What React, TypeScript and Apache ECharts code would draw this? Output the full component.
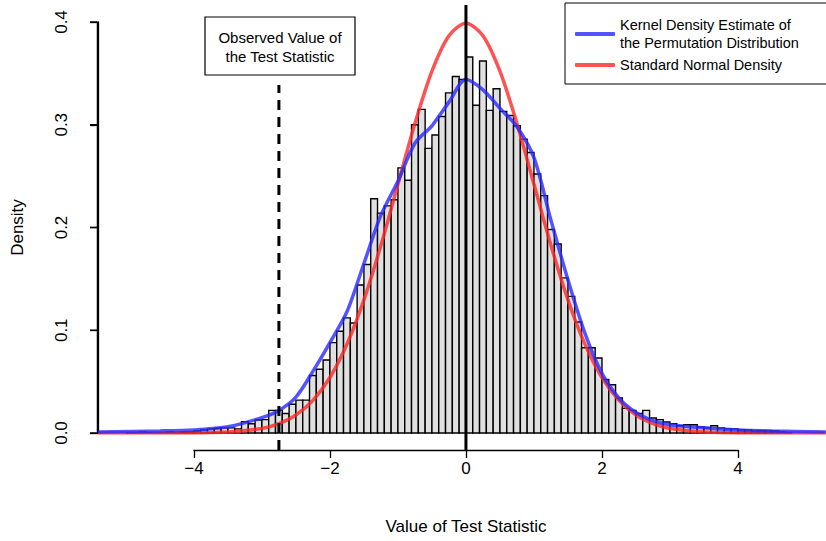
import React, { useEffect, useRef } from "react";
import * as echarts from "echarts";

const binStarts = [
  -5.0, -4.9, -4.8, -4.7, -4.6, -4.5, -4.4, -4.3, -4.2, -4.1, -4.0, -3.9, -3.8,
  -3.7, -3.6, -3.5, -3.4, -3.3, -3.2, -3.1, -3.0, -2.9, -2.8, -2.7, -2.6, -2.5, -2.4,
  -2.3, -2.2, -2.1, -2.0, -1.9, -1.8, -1.7, -1.6, -1.5, -1.4, -1.3, -1.2, -1.1,
  -1.0, -0.9, -0.8, -0.7, -0.6, -0.5, -0.4, -0.3, -0.2, -0.1,
  0.0, 0.1, 0.2, 0.3, 0.4, 0.5, 0.6, 0.7, 0.8, 0.9, 1.0, 1.1, 1.2, 1.3, 1.4, 1.5,
  1.6, 1.7, 1.8, 1.9, 2.0, 2.1, 2.2, 2.3, 2.4, 2.5, 2.6, 2.7, 2.8, 2.9, 3.0, 3.1,
  3.2, 3.3, 3.4, 3.5, 3.6, 3.7, 3.8, 3.9, 4.0, 4.1, 4.2, 4.3, 4.4, 4.5, 4.6, 4.7,
];
const binDensity = [
  0.0, 0.0, 0.001, 0.0, 0.0, 0.0, 0.001, 0.0, 0.001, 0.001, 0.002, 0.003, 0.004,
  0.0046, 0.005, 0.005, 0.004, 0.011, 0.009, 0.0126, 0.013, 0.022, 0.022, 0.019, 0.028, 0.032, 0.032,
  0.056, 0.062, 0.071, 0.088, 0.099, 0.112, 0.107, 0.144, 0.164, 0.228, 0.214, 0.221, 0.227,
  0.258, 0.246, 0.300, 0.315, 0.277, 0.290, 0.308, 0.331, 0.347, 0.344,
  0.366, 0.319, 0.362, 0.314, 0.335, 0.313, 0.309, 0.299, 0.286, 0.273, 0.252, 0.231, 0.198, 0.184, 0.151, 0.133,
  0.108, 0.083, 0.083, 0.073, 0.052, 0.047, 0.034, 0.024, 0.022, 0.019, 0.022, 0.0146, 0.013, 0.0107, 0.009, 0.007,
  0.008, 0.008, 0.006, 0.005, 0.007, 0.005, 0.004, 0.004, 0.003, 0.003, 0.002, 0.002, 0.002, 0.002, 0.001, 0.0,
];
const binWidth = 0.1;

const kdeX = [-5.41, -4.5, -4.0, -3.5, -3.0, -2.75, -2.5, -2.25, -2.0, -1.75, -1.5, -1.25, -1.0, -0.75, -0.5, -0.25, 0.0, 0.25, 0.5, 0.75, 1.0, 1.25, 1.5, 1.75, 2.0, 2.25, 2.5, 2.75, 3.0, 3.5, 4.0, 4.5, 5.29];
const kdeY = [0.001, 0.002, 0.003, 0.006, 0.015, 0.022, 0.035, 0.06, 0.088, 0.118, 0.165, 0.212, 0.245, 0.282, 0.299, 0.322, 0.344, 0.334, 0.316, 0.298, 0.268, 0.207, 0.149, 0.097, 0.058, 0.034, 0.02, 0.012, 0.008, 0.005, 0.003, 0.002, 0.001];

const normX = [-5.41, -4.0, -3.5, -3.0, -2.75, -2.5, -2.25, -2.0, -1.75, -1.5, -1.25, -1.0, -0.75, -0.5, -0.25, 0.0, 0.25, 0.5, 0.75, 1.0, 1.25, 1.5, 1.75, 2.0, 2.25, 2.5, 2.75, 3.0, 3.5, 4.0, 5.29];
const normY = [0.0, 0.0001, 0.0009, 0.0044, 0.0091, 0.0175, 0.0317, 0.054, 0.0863, 0.1295, 0.1826, 0.242, 0.3011, 0.3521, 0.3867, 0.3989, 0.3867, 0.3521, 0.3011, 0.242, 0.1826, 0.1295, 0.0863, 0.054, 0.0317, 0.0175, 0.0091, 0.0044, 0.0009, 0.0001, 0.0];

const observedValue = -2.75;
const xRange = [-5.41, 5.294];
const xTicks = [-4, 4];
const yTickValues = [0, 0.1, 0.2, 0.3, 0.4];
const FONT = "Liberation Sans, Arial, sans-serif";

export default function App() {
  const ref = useRef<HTMLDivElement>(null);
  useEffect(() => {
    const chart = echarts.init(ref.current!, null, { renderer: "svg" });
    const bottomY = -0.0165;
    const yMin = yTickValues[0], yMax = yTickValues[yTickValues.length - 1];
    chart.setOption({
      animation: false,
      textStyle: { fontFamily: FONT },
      grid: [
        { left: 98, right: 0, top: 22, bottom: 108, outerBoundsMode: "none", containLabel: false },
        { left: 194, right: 88, top: 449, bottom: 91, outerBoundsMode: "none", containLabel: false },
      ],
      xAxis: [
        { type: "value", gridIndex: 0, min: xRange[0], max: xRange[1], show: false },
        {
          type: "value", gridIndex: 1, min: xTicks[0], max: xTicks[1], interval: 2, position: "bottom",
          axisLine: { show: true, onZero: false, lineStyle: { color: "#000", width: 1.3 } },
          axisTick: { show: true, length: 8, lineStyle: { color: "#000", width: 1.3 } },
          axisLabel: { color: "#000", fontSize: 17, margin: 10, fontFamily: FONT, formatter: (v: number) => (v < 0 ? "\u2212" + Math.abs(v) : String(v)) },
          splitLine: { show: false },
          name: "Value of Test Statistic", nameLocation: "middle", nameGap: 68,
          nameTextStyle: { color: "#000", fontSize: 17, fontFamily: FONT },
        },
      ],
      yAxis: [
        {
          type: "value", gridIndex: 0, min: yMin, max: yMax, interval: 0.1, position: "left",
          axisLine: { show: true, onZero: false, lineStyle: { color: "#000", width: 1.3 } },
          axisTick: { show: true, length: 8, lineStyle: { color: "#000", width: 1.3 } },
          axisLabel: { color: "#000", fontSize: 17, rotate: 90, margin: 28, fontFamily: FONT, formatter: (v: number) => v.toFixed(1) },
          splitLine: { show: false },
          name: "Density", nameLocation: "middle", nameGap: 72, nameRotate: 90,
          nameTextStyle: { color: "#000", fontSize: 17, fontFamily: FONT },
        },
        { type: "value", gridIndex: 1, show: false, min: 0, max: 1 },
      ],
      legend: {
        orient: "vertical", left: 565, top: 3, itemGap: 4,
        borderColor: "#000", borderWidth: 1, padding: [13, 40, 10, 10],
        itemWidth: 40, itemHeight: 4, icon: "roundRect",
        textStyle: { fontSize: 14.5, lineHeight: 18, color: "#000", fontFamily: FONT },
        data: ["Kernel Density Estimate of\nthe Permutation Distribution", "Standard Normal Density"],
      },
      graphic: [
        { type: "rect", shape: { x: 205, y: 17, width: 150, height: 58 }, style: { fill: "#fff", stroke: "#000", lineWidth: 1.2 }, z: 100 },
        { type: "text", x: 280, y: 47, z: 101, style: { text: "Observed Value of\nthe Test Statistic", fontSize: 15, lineHeight: 19, fontFamily: FONT, fill: "#000", align: "center", verticalAlign: "middle" } },
      ],
      series: [
        {
          type: "custom", xAxisIndex: 0, yAxisIndex: 0,
          data: binStarts.map((s, i) => [s, binDensity[i]]),
          renderItem: (params: any, api: any) => {
            const s = api.value(0), h = api.value(1);
            const p0 = api.coord([s, 0]);
            const p1 = api.coord([s + binWidth, h]);
            return {
              type: "rect",
              shape: { x: p0[0], y: p1[1], width: p1[0] - p0[0], height: p0[1] - p1[1] },
              style: { fill: "#e0e0e0", stroke: "#000", lineWidth: 1.4 },
            };
          },
        },
        {
          type: "custom", xAxisIndex: 0, yAxisIndex: 0, clip: false, silent: true, z: 6,
          data: yTickValues.map((v) => [xRange[0], v]),
          renderItem: (params: any, api: any) => {
            const p = api.coord([api.value(0), api.value(1)]);
            const children: any[] = [
              { type: "polyline", shape: { points: [[p[0] - 0.5, p[1]], [p[0] - 8, p[1]]] }, style: { stroke: "#000", lineWidth: 1.5, fill: "none" } },
            ];
            if (params.dataIndex === 0) {
              const top = api.coord([api.value(0), yMax]);
              children.push({ type: "polyline", shape: { points: [[p[0] - 0.5, p[1]], [top[0] - 0.5, top[1]]] }, style: { stroke: "#000", lineWidth: 1.5, fill: "none" } });
            }
            return { type: "group", children };
          },
        },
        {
          type: "line", name: "Standard Normal Density", data: normX.map((x, i) => [x, normY[i]]),
          smooth: 0.3, showSymbol: false, color: "rgba(255,40,40,0.8)",
          lineStyle: { color: "rgba(255,40,40,0.8)", width: 3.5 }, z: 3,
        },
        {
          type: "line", name: "Kernel Density Estimate of\nthe Permutation Distribution", data: kdeX.map((x, i) => [x, kdeY[i]]),
          smooth: 0.3, showSymbol: false, color: "rgba(40,40,255,0.8)",
          lineStyle: { color: "rgba(40,40,255,0.8)", width: 3.5 }, z: 4,
        },
        {
          type: "line", data: [[0, bottomY], [0, 0.4165]], clip: false, showSymbol: false,
          lineStyle: { color: "#000", width: 3 }, z: 5, silent: true,
        },
        {
          type: "line", data: [[observedValue, bottomY], [observedValue, 0.3387]], clip: false, showSymbol: false,
          lineStyle: { color: "#000", width: 3, type: [10, 7] }, z: 5, silent: true,
        },
      ],
    });
    return () => chart.dispose();
  }, []);
  return <div ref={ref} style={{ position: "absolute", left: 0, top: 0, width: 826, height: 541 }} />;
}
